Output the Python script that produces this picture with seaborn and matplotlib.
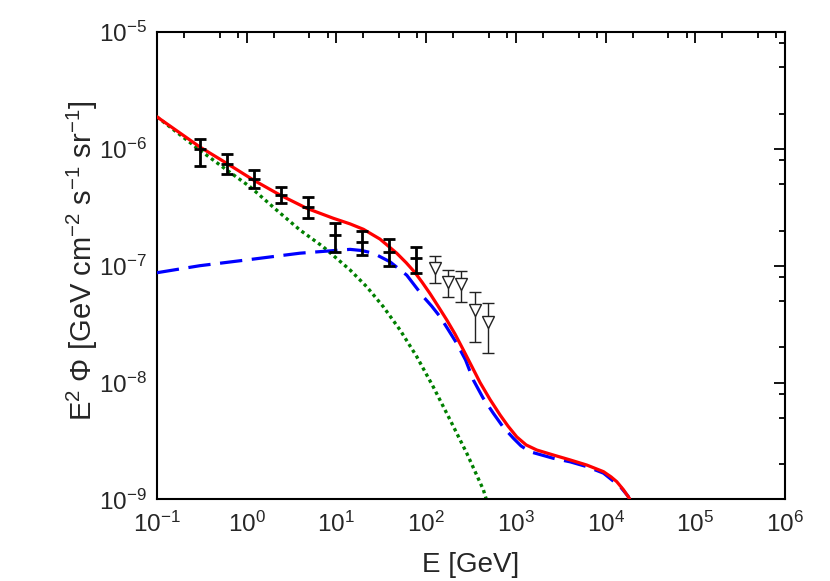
import matplotlib
matplotlib.use("Agg")
import matplotlib.pyplot as plt
import matplotlib.ticker as mticker
import seaborn as sns
import pandas as pd

# total (solid red)
total_E = [0.1, 0.30, 0.60, 1.19, 2.35, 4.67, 9.2, 14.2, 20, 30.6, 47, 60, 75, 90, 110, 136,
           170, 210, 260, 322, 399, 515, 667, 818, 1023, 1300, 1710, 2620, 4020, 6170,
           9460, 11500, 13300, 15800, 18400, 19500]
total_flux = [1.88e-6, 1.04e-6, 7.52e-7, 5.41e-7, 4.03e-7, 3.10e-7, 2.55e-7, 2.28e-7, 2.05e-7,
              1.69e-7, 1.28e-7, 1.06e-7, 8.75e-8, 7.24e-8, 5.8e-8, 4.5e-8, 3.43e-8, 2.6e-8,
              1.90e-8, 1.38e-8, 1.0e-8, 7.17e-9, 5.28e-9, 4.24e-9, 3.43e-9, 2.93e-9, 2.65e-9,
              2.40e-9, 2.18e-9, 1.97e-9, 1.73e-9, 1.56e-9, 1.42e-9, 1.21e-9, 1.02e-9, 8.5e-10]

# second component (blue dashed)
comp2_E = [0.1, 0.30, 1.09, 3.93, 8.5, 14.2, 19, 25.8, 39.6, 60.8, 93, 115, 143, 177, 219,
           275, 336, 430, 561, 720, 938, 1143, 1440, 2620, 4020, 6170, 9460, 14500, 17900, 19500]
comp2_flux = [8.71e-8, 1.0e-7, 1.13e-7, 1.28e-7, 1.34e-7, 1.38e-7, 1.35e-7, 1.28e-7, 1.08e-7,
              8.3e-8, 5.43e-8, 4.52e-8, 3.66e-8, 2.82e-8, 2.17e-8, 1.56e-8, 1.05e-8, 7.4e-9,
              5.46e-9, 4.17e-9, 3.34e-9, 2.87e-9, 2.56e-9, 2.25e-9, 2.10e-9, 1.91e-9, 1.68e-9,
              1.29e-9, 1.06e-9, 8.5e-10]

# first component (green dotted)
comp1_E = [0.1, 0.30, 0.60, 1.09, 2.16, 3.93, 7.14, 14.2, 21.8, 33.3, 51.2, 78.5, 120,
           185, 284, 434, 500]
comp1_flux = [1.88e-6, 9.77e-7, 6.59e-7, 4.74e-7, 2.99e-7, 2.02e-7, 1.45e-7, 9.2e-8, 6.6e-8,
              4.46e-8, 2.82e-8, 1.67e-8, 9.2e-9, 4.79e-9, 2.48e-9, 1.21e-9, 8.5e-10]

# measured points (thick error bars)
data_E = [0.3, 0.6, 1.2, 2.4, 4.8, 9.6, 19.2, 38.4, 76.8]
data_flux = [9.9e-7, 7.37e-7, 5.48e-7, 4.03e-7, 3.16e-7, 1.83e-7, 1.59e-7, 1.32e-7, 1.16e-7]
data_lo = [7.17e-7, 6.09e-7, 4.59e-7, 3.42e-7, 2.54e-7, 1.32e-7, 1.24e-7, 9.9e-8, 8.6e-8]
data_hi = [1.21e-6, 8.97e-7, 6.59e-7, 4.74e-7, 3.85e-7, 2.33e-7, 1.99e-7, 1.68e-7, 1.46e-7]

# open triangles (thin error bars)
tri_E = [126, 177, 245, 351, 493]
tri_flux = [9.5e-8, 7.3e-8, 6.97e-8, 4.18e-8, 3.32e-8]
tri_lo = [7.07e-8, 5.43e-8, 4.92e-8, 2.24e-8, 1.78e-8]
tri_hi = [1.21e-7, 9.2e-8, 9.06e-8, 6.0e-8, 4.77e-8]

sns.set_style("white")
plt.rcParams['font.family'] = ['Liberation Sans', 'DejaVu Sans']
plt.rcParams['mathtext.fontset'] = 'custom'
plt.rcParams['mathtext.rm'] = 'Liberation Sans'
plt.rcParams['mathtext.it'] = 'Liberation Sans:italic'
plt.rcParams['mathtext.bf'] = 'Liberation Sans:bold'

fig = plt.figure(figsize=(8.3, 5.81), dpi=100)
ax = fig.add_axes([0.189, 0.1403, 0.757, 0.8047])

df1 = pd.DataFrame({'E': comp1_E, 'flux': comp1_flux})
df2 = pd.DataFrame({'E': comp2_E, 'flux': comp2_flux})
dft = pd.DataFrame({'E': total_E, 'flux': total_flux})

sns.lineplot(data=df1, x='E', y='flux', ax=ax, color='#008000', lw=2.4,
             linestyle=(0, (1, 1.05)), estimator=None, zorder=2)
sns.lineplot(data=df2, x='E', y='flux', ax=ax, color='#0000ff', lw=2.3,
             linestyle=(0, (7, 3)), estimator=None, zorder=3)
sns.lineplot(data=dft, x='E', y='flux', ax=ax, color='#ff0000', lw=2.3,
             estimator=None, zorder=4)

yerr_d = [[f - l for f, l in zip(data_flux, data_lo)], [h - f for f, h in zip(data_flux, data_hi)]]
ax.errorbar(data_E, data_flux, yerr=yerr_d, fmt='_', color='black', ms=9, mew=2,
            elinewidth=2, capsize=4.5, capthick=2, zorder=5)

yerr_t = [[f - l for f, l in zip(tri_flux, tri_lo)], [h - f for f, h in zip(tri_flux, tri_hi)]]
ax.errorbar(tri_E, tri_flux, yerr=yerr_t, fmt='v', color='#222222', mfc='white', ms=9,
            mew=1, elinewidth=1, capsize=4.5, capthick=1, zorder=5)

ax.set_xscale('log')
ax.set_yscale('log')
ax.set_xlim(0.1, 1e6)
ax.set_ylim(1e-9, 1e-5)
ax.xaxis.set_major_locator(mticker.LogLocator(base=10, numticks=20))
ax.yaxis.set_major_locator(mticker.LogLocator(base=10, numticks=20))
ax.xaxis.set_minor_locator(mticker.LogLocator(base=10, subs=(2, 5, 8), numticks=20))
ax.yaxis.set_minor_locator(mticker.LogLocator(base=10, subs=(2, 5, 8), numticks=20))
ax.xaxis.set_minor_formatter(mticker.NullFormatter())
ax.yaxis.set_minor_formatter(mticker.NullFormatter())

ax.tick_params(which='both', direction='in', top=True, right=True, color='black',
               labelsize=17.5, width=1.3)
ax.tick_params(which='major', length=8)
ax.tick_params(which='minor', length=4.5)
ax.tick_params(axis='x', which='major', pad=9)
ax.tick_params(axis='y', which='major', pad=7)
for s in ax.spines.values():
    s.set_color('black')
    s.set_linewidth(1.5)

ax.set_xlabel('E [GeV]', fontsize=20)
ax.set_ylabel('E$^2$ Φ [GeV cm$^{-2}$ s$^{-1}$ sr$^{-1}$]', fontsize=21)
ax.xaxis.set_label_coords(0.5, -0.113)
ax.yaxis.set_label_coords(-0.09, 0.51)

fig.savefig('out.png', dpi=100)
